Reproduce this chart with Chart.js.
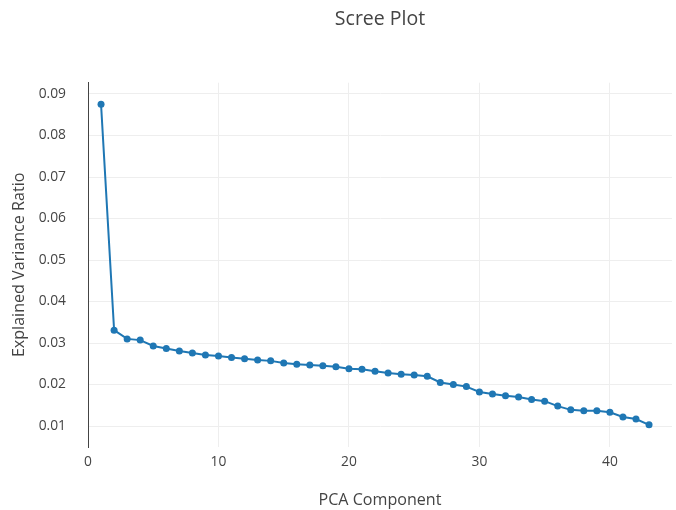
<!DOCTYPE html>
<html>
<head>
<meta charset="utf-8">
<script src="https://cdn.jsdelivr.net/npm/chart.js@4"></script>
<style>
  html, body { margin: 0; padding: 0; background: #fff; }
  #wrap { width: 676px; height: 510px; }
</style>
</head>
<body>
<div id="wrap"><canvas id="screeChart" width="676" height="510"></canvas></div>
<script>
// explained variance ratio for each PCA component
const components = [1, 2, 3, 4, 5, 6, 7, 8, 9, 10, 11, 12, 13, 14, 15, 16, 17, 18, 19, 20, 21, 22,
  23, 24, 25, 26, 27, 28, 29, 30, 31, 32, 33, 34, 35, 36, 37, 38, 39, 40, 41, 42, 43];
const varianceRatio = [0.0875, 0.0331, 0.0310, 0.0307, 0.0293, 0.0287, 0.0281, 0.0276, 0.0271, 0.0269,
  0.0265, 0.0262, 0.0259, 0.0257, 0.0252, 0.0249, 0.0247, 0.0245, 0.0243, 0.0238,
  0.0237, 0.0232, 0.0228, 0.0225, 0.0223, 0.0220, 0.0205, 0.0200, 0.0195, 0.0182,
  0.0177, 0.0173, 0.0170, 0.0164, 0.0160, 0.0148, 0.0139, 0.0137, 0.0137, 0.0133,
  0.0122, 0.0117, 0.0103];
const xTicks = [0, 10, 20, 30, 40];
const yTicks = [0.01, 0.02, 0.03, 0.04, 0.05, 0.06, 0.07, 0.08, 0.09];

const screeEl = document.getElementById('screeChart');
const textColor = '#444';
const fontFamily = '"Open Sans", "Noto Sans", sans-serif';

new Chart(screeEl, {
  type: 'line',
  data: {
    datasets: [{
      data: components.map((c, i) => ({x: c, y: varianceRatio[i]})),
      borderColor: '#1f77b4',
      backgroundColor: '#1f77b4',
      borderWidth: 2,
      pointRadius: 3.5,
      pointBorderWidth: 0,
      pointBackgroundColor: '#1f77b4',
      tension: 0
    }]
  },
  options: {
    responsive: false,
    animation: false,
    layout: {padding: {left: 0, right: 0, top: 0, bottom: 0}},
    plugins: {
      legend: {display: false},
      tooltip: {enabled: false},
      title: {
        display: true,
        text: 'Scree Plot',
        fullSize: false,
        color: textColor,
        font: {family: fontFamily, size: 19.5, weight: 'normal'},
        padding: {top: 8, bottom: 51.3}
      }
    },
    scales: {
      x: {
        type: 'linear',
        min: 0,
        max: 44.76,
        afterBuildTicks: (scale) => { scale.ticks = xTicks.map(v => ({value: v})); },
        afterFit: (scale) => { scale.height = 63; },
        grid: {color: '#eee', drawTicks: false},
        border: {display: false},
        ticks: {
          color: textColor,
          padding: 7,
          maxRotation: 0,
          font: {family: fontFamily, size: 13.8}
        },
        title: {
          display: true,
          text: 'PCA Component',
          color: textColor,
          font: {family: fontFamily, size: 16.1},
          padding: {top: 0, bottom: 0}
        }
      },
      y: {
        min: 0.00495,
        max: 0.09272,
        afterBuildTicks: (scale) => { scale.ticks = yTicks.map(v => ({value: v})); },
        afterFit: (scale) => { scale.width = 88; },
        grid: {color: '#eee', drawTicks: false},
        border: {display: true, color: textColor, width: 1},
        ticks: {
          color: textColor,
          padding: 22,
          font: {family: fontFamily, size: 13.8},
          callback: (v) => v.toFixed(2)
        },
        title: {
          display: true,
          text: 'Explained Variance Ratio',
          color: textColor,
          font: {family: fontFamily, size: 16.1},
          padding: {top: 10, bottom: 0}
        }
      }
    }
  }
});
</script>
</body>
</html>
